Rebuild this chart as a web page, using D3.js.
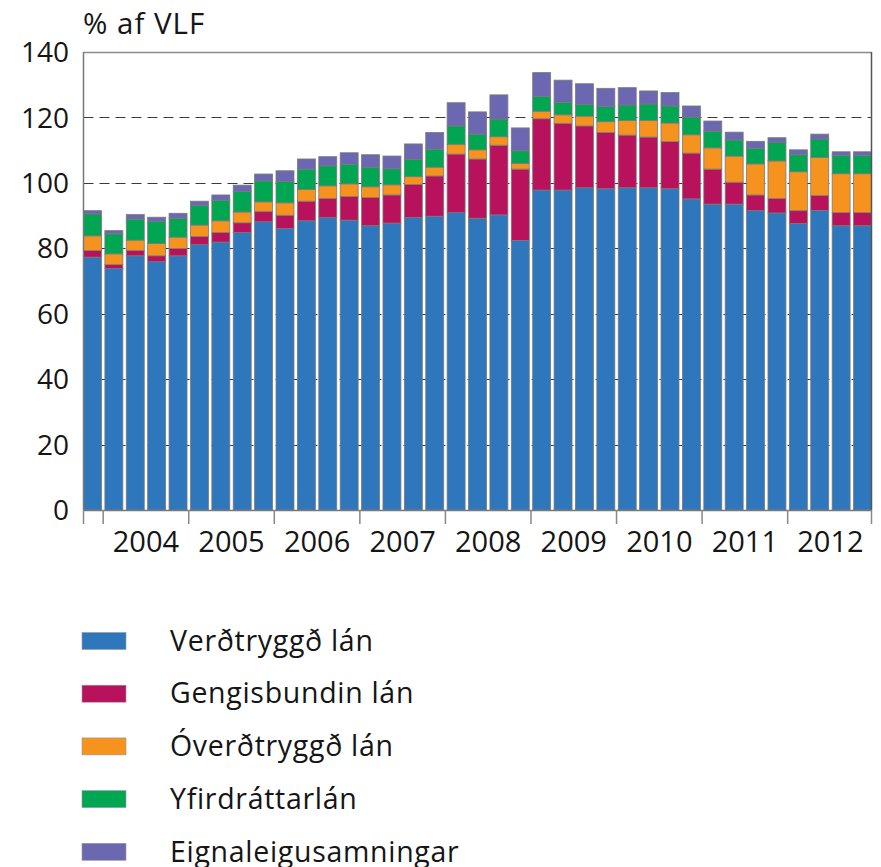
<!DOCTYPE html>
<html>
<head>
<meta charset="utf-8">
<script src="https://cdn.jsdelivr.net/npm/d3@7"></script>
<style>
  body { margin: 0; background: #fff; }
  svg text { font-family: "Open Sans", "Noto Sans", sans-serif; fill: #151515; }
</style>
</head>
<body>
<div id="chart"></div>
<script>
// quarters, 2003Q4 - 2012Q4
const quarters = [
    "2003Q4",
    "2004Q1", "2004Q2", "2004Q3", "2004Q4",
    "2005Q1", "2005Q2", "2005Q3", "2005Q4",
    "2006Q1", "2006Q2", "2006Q3", "2006Q4",
    "2007Q1", "2007Q2", "2007Q3", "2007Q4",
    "2008Q1", "2008Q2", "2008Q3", "2008Q4",
    "2009Q1", "2009Q2", "2009Q3", "2009Q4",
    "2010Q1", "2010Q2", "2010Q3", "2010Q4",
    "2011Q1", "2011Q2", "2011Q3", "2011Q4",
    "2012Q1", "2012Q2", "2012Q3", "2012Q4"
];
const years = ["2004", "2005", "2006", "2007", "2008", "2009", "2010", "2011", "2012"];
const yTicks = [0, 20, 40, 60, 80, 100, 120, 140];

const seriesNames = ["Verðtryggð lán", "Gengisbundin lán", "Óverðtryggð lán", "Yfirdráttarlán", "Eignaleigusamningar"];
const seriesColors = ["#2e77bc", "#b7125b", "#f6931f", "#00a651", "#6b67b0"];

const verdtryggd = [77.3, 73.8, 77.7, 75.9, 77.7, 81.1, 81.9, 84.8, 88.1, 86.0, 88.4, 89.4, 88.6,
    86.9, 87.7, 89.4, 89.8, 90.9, 89.2, 90.2, 82.4, 97.8, 97.8, 98.5, 98.2, 98.5, 98.5, 98.2, 95.1,
    93.5, 93.5, 91.5, 90.8, 87.6, 91.6, 86.9, 86.9];
const gengisbundin = [2.0, 1.2, 1.6, 1.8, 2.2, 2.5, 2.9, 3.0, 3.1, 4.1, 6.0, 5.8, 7.2,
    8.6, 8.6, 10.1, 12.3, 17.9, 18.1, 21.3, 21.8, 21.8, 20.4, 18.9, 17.2, 16.1, 15.5, 14.4, 14.0,
    10.7, 6.7, 4.8, 4.4, 3.9, 4.5, 4.0, 4.0];
const overdtryggd = [4.5, 3.3, 3.2, 3.8, 3.5, 3.5, 3.6, 3.3, 3.0, 3.8, 3.6, 3.9, 3.9,
    3.3, 3.1, 2.4, 2.7, 3.0, 2.8, 2.6, 1.8, 2.3, 2.6, 3.0, 3.3, 4.5, 5.1, 5.7, 5.6,
    6.5, 8.0, 9.5, 11.5, 11.9, 11.7, 11.9, 11.9];
const yfirdrattar = [6.7, 6.1, 6.4, 6.7, 5.8, 6.0, 6.3, 6.3, 6.4, 6.5, 6.2, 6.1, 5.9,
    6.0, 4.9, 5.3, 5.5, 5.6, 4.8, 5.4, 3.8, 4.5, 3.8, 3.5, 4.6, 4.7, 5.0, 5.2, 5.4,
    5.1, 4.9, 4.8, 5.6, 5.2, 5.6, 5.5, 5.5];
const eignaleiga = [1.0, 1.0, 1.4, 1.3, 1.5, 1.3, 1.6, 1.9, 2.1, 3.3, 3.1, 2.8, 3.6,
    3.8, 3.9, 4.7, 5.1, 7.1, 6.8, 7.4, 7.0, 7.3, 6.8, 6.4, 5.6, 5.3, 4.0, 4.1, 3.4,
    3.1, 2.4, 2.1, 1.5, 1.5, 1.5, 1.2, 1.2];

const seriesValues = [verdtryggd, gengisbundin, overdtryggd, yfirdrattar, eignaleiga];

// table for d3.stack
const rows = quarters.map((q, i) => {
    let r = { q: q };
    seriesNames.forEach((s, k) => r[s] = seriesValues[k][i]);
    return r;
});

let width = 881;
let height = 867;

let svg = d3.select("#chart")
    .append("svg")
    .attr("width", width)
    .attr("height", height);

let x = d3.scaleBand()
    .domain(quarters)
    .range([83.5, 871.5])
    .paddingInner(0.16)
    .paddingOuter(0);

let y = d3.scaleLinear()
    .domain([0, 140])
    .range([510, 52]);

// dashed gridlines (behind the bars)
svg.append("g")
    .selectAll("line")
    .data(yTicks.filter(d => d > 0 && d < 140))
    .join("line")
    .attr("x1", 83.5)
    .attr("x2", 871.5)
    .attr("y1", d => Math.round(y(d)) + 0.5)
    .attr("y2", d => Math.round(y(d)) + 0.5)
    .attr("stroke", "#3a3a3a")
    .attr("stroke-width", 1.2)
    .attr("stroke-dasharray", "10,6");

let stacked = d3.stack().keys(seriesNames)(rows);

svg.append("g")
    .selectAll("g")
    .data(stacked)
    .join("g")
    .attr("fill", (d, i) => seriesColors[i])
    .selectAll("rect")
    .data(d => d)
    .join("rect")
    .attr("x", d => x(d.data.q))
    .attr("width", x.bandwidth())
    .attr("y", d => y(d[1]))
    .attr("height", d => y(d[0]) - y(d[1]))
    .attr("stroke", "#7a7a7a")
    .attr("stroke-width", 0.8);

// frame
svg.append("line")
    .attr("x1", 83.5).attr("x2", 871.5)
    .attr("y1", 52.5).attr("y2", 52.5)
    .attr("stroke", "#8a8a8a").attr("stroke-width", 1.5);
svg.append("line")
    .attr("x1", 871.5).attr("x2", 871.5)
    .attr("y1", 52).attr("y2", 510)
    .attr("stroke", "#555").attr("stroke-width", 1.5);
svg.append("line")
    .attr("x1", 83.5).attr("x2", 83.5)
    .attr("y1", 52).attr("y2", 510)
    .attr("stroke", "#777").attr("stroke-width", 1.5);
svg.append("line")
    .attr("x1", 83).attr("x2", 872)
    .attr("y1", 510.5).attr("y2", 510.5)
    .attr("stroke", "#777").attr("stroke-width", 1.5);

// y labels
svg.append("g")
    .selectAll("text")
    .data(yTicks)
    .join("text")
    .attr("x", 69)
    .attr("y", d => y(d))
    .attr("dy", "0.36em")
    .attr("text-anchor", "end")
    .attr("font-size", 28)
    .text(d => d);

svg.append("text")
    .attr("x", 83)
    .attr("y", 34)
    .attr("font-size", 29.5)
    .attr("letter-spacing", 1)
    .text("% af VLF");

// x ticks: at axis start, then at each year boundary
let gap = x.step() * x.paddingInner();
let tickX = [83.5].concat(years.map(yr => x(yr + "Q1") - gap / 2)).concat([871.5]);
svg.append("g")
    .selectAll("line")
    .data(tickX)
    .join("line")
    .attr("x1", d => d)
    .attr("x2", d => d)
    .attr("y1", 510)
    .attr("y2", 524)
    .attr("stroke", "#888")
    .attr("stroke-width", 1.5);

svg.append("g")
    .selectAll("text")
    .data(years)
    .join("text")
    .attr("x", yr => (x(yr + "Q1") + x(yr + "Q4") + x.bandwidth()) / 2)
    .attr("y", 552)
    .attr("text-anchor", "middle")
    .attr("font-size", 29)
    .text(d => d);

// legend
let legend = svg.append("g")
    .selectAll("g")
    .data(seriesNames)
    .join("g")
    .attr("transform", (d, i) => `translate(82, ${641 + i * 52.7})`);

legend.append("rect")
    .attr("x", 0)
    .attr("y", -8.5)
    .attr("width", 44)
    .attr("height", 17)
    .attr("fill", (d, i) => seriesColors[i])
    .attr("stroke", "#999")
    .attr("stroke-width", 0.6);

legend.append("text")
    .attr("x", 88)
    .attr("y", 0)
    .attr("dy", "0.34em")
    .attr("font-size", 28.5)
    .attr("letter-spacing", 0.7)
    .text(d => d);
</script>
</body>
</html>
